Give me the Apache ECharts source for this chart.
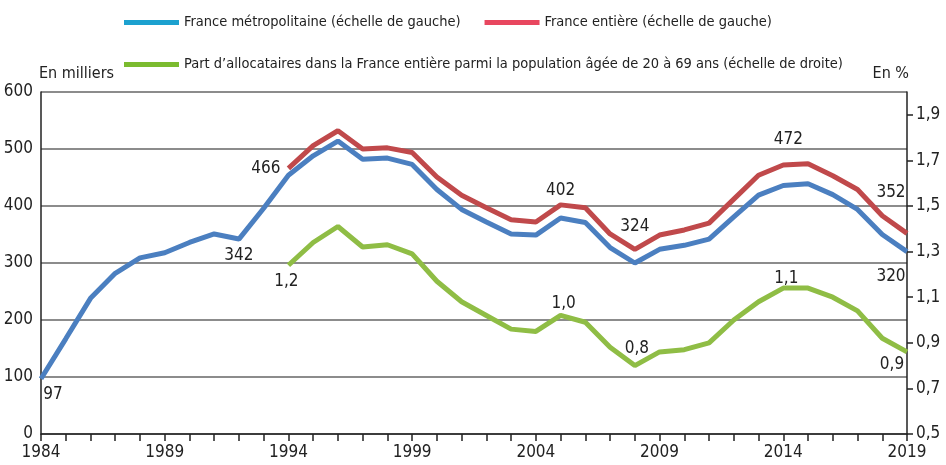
<!DOCTYPE html>
<html>
<head>
<meta charset="utf-8">
<script src="https://cdn.jsdelivr.net/npm/echarts@6/dist/echarts.min.js"></script>
<style>
  html, body { margin: 0; padding: 0; background: #fff; }
  #main { width: 946px; height: 465px; }
</style>
</head>
<body>
<div id="main"></div>
<script>
var chart = echarts.init(document.getElementById('main'))

var FONT = '"Liberation Sans Narrow", "Arial Narrow", "DejaVu Sans Condensed", sans-serif'

// annees 1984 -> 2019
var years = []
for (var y = 1984; y <= 2019; y++) years.push(String(y))

// en milliers
var metro = [97, 167, 238, 282, 309, 318, 336, 351, 342, 396, 454, 488, 514, 482, 484, 473, 429, 394,
  372, 351, 349, 379, 371, 327, 300, 324, 331, 342, 381, 419, 436, 439, 420, 394, 350, 320]
var entiere = [null, null, null, null, null, null, null, null, null, null,
  466, 506, 532, 500, 502, 494, 451, 419, 397, 376, 372, 402, 397, 351, 324, 349, 358, 370, 412, 454,
  472, 474, 453, 429, 383, 352]
// en %
var part = [null, null, null, null, null, null, null, null, null, null,
  1.24, 1.34, 1.41, 1.32, 1.33, 1.29, 1.17, 1.08, 1.02, 0.96, 0.95, 1.02, 0.99, 0.88, 0.80, 0.86,
  0.87, 0.90, 1.00, 1.08, 1.14, 1.14, 1.10, 1.04, 0.92, 0.86]

var rightTicks = [0.5, 0.7, 0.9, 1.1, 1.3, 1.5, 1.7, 1.9]

var nameMetro = 'France métropolitaine (échelle de gauche)'
var nameEntiere = 'France entière (échelle de gauche)'
var namePart = 'Part d\u2019allocataires dans la France entière parmi la population âgée de 20 à 69 ans (échelle de droite)'

// etiquettes : annee -> position
var labMetro = {
  1984: { position: 'bottom', offset: [12, 3], distance: 4 },
  1992: { position: 'bottom', distance: 8 },
  2019: { position: 'bottom', offset: [-16, 12], distance: 4 }
}
var labEntiere = {
  1994: { position: 'left', distance: 8 },
  2005: { position: 'top', distance: 6 },
  2008: { position: 'top', distance: 14 },
  2014: { position: 'top', offset: [5, 0], distance: 17 },
  2019: { position: 'top', offset: [-16, -26], distance: 6 }
}
var labPart = {
  1994: { position: 'bottom', offset: [-2, 0], distance: 8 },
  2005: { position: 'top', offset: [3, 0], distance: 3 },
  2008: { position: 'top', offset: [2, 0], distance: 8 },
  2014: { position: 'top', offset: [3, 0], distance: 1 },
  2019: { position: 'bottom', offset: [-15, 0], distance: 4 }
}

function withLabels(values, labs, fmt) {
  return values.map(function (v, i) {
    var l = labs[years[i]]
    if (!l || v == null) return v
    return {
      value: v,
      label: {
        show: true,
        position: l.position,
        distance: l.distance,
        offset: l.offset || [0, 0],
        formatter: fmt(v),
        color: '#222',
        fontSize: 17,
        fontFamily: FONT
      }
    }
  })
}

function fmtInt(v) { return String(v) }
function fmtPct(v) { return v.toFixed(1).replace('.', ',') }

function lineSerie(name, data, color, yIndex) {
  return {
    name: name,
    type: 'line',
    yAxisIndex: yIndex,
    data: data,
    symbol: 'circle',
    symbolSize: 0.1,
    showAllSymbol: true,
    itemStyle: { color: color },
    lineStyle: { color: color, width: 5 },
    emphasis: { disabled: true },
    silent: true,
    animation: false
  }
}

var legendText = { color: '#222', fontSize: 14.5, fontFamily: FONT }

var option = {
  animation: false,
  legend: [{
    left: 119,
    top: 10,
    icon: 'rect',
    itemWidth: 55,
    itemHeight: 5,
    itemGap: 24,
    textStyle: legendText,
    selectedMode: false,
    data: [
      { name: nameMetro, itemStyle: { color: '#1ca1cf' } },
      { name: nameEntiere, itemStyle: { color: '#e8475f' } }
    ]
  }, {
    left: 119,
    top: 52,
    icon: 'rect',
    itemWidth: 55,
    itemHeight: 5,
    textStyle: legendText,
    selectedMode: false,
    data: [{ name: namePart, itemStyle: { color: '#7bbb2f' } }]
  }],
  grid: { left: 41, right: 39, top: 92, bottom: 31 },
  xAxis: {
    type: 'category',
    data: years,
    boundaryGap: false,
    axisLine: { lineStyle: { color: '#222', width: 1.5 } },
    axisTick: { interval: 0, length: 7, lineStyle: { color: '#222', width: 1.5 } },
    axisLabel: { interval: 4, margin: 10, color: '#222', fontSize: 17, fontFamily: FONT },
    splitLine: { show: false }
  },
  yAxis: [{
    type: 'value',
    min: 0,
    max: 600,
    interval: 100,
    name: 'En milliers',
    nameLocation: 'end',
    nameGap: 10,
    nameTextStyle: { align: 'left', color: '#222', fontSize: 16, fontFamily: FONT, padding: [0, 0, 0, -2] },
    axisLine: { show: true, lineStyle: { color: '#222', width: 1.5 } },
    axisTick: { show: false },
    axisLabel: { margin: 8, color: '#222', fontSize: 17, fontFamily: FONT },
    splitLine: { lineStyle: { color: '#666', width: 1.5 } }
  }, {
    type: 'value',
    position: 'right',
    min: 0.5,
    max: 2.0,
    interval: 0.1,
    name: 'En %',
    nameLocation: 'end',
    nameGap: 10,
    nameTextStyle: { align: 'right', color: '#222', fontSize: 16, fontFamily: FONT, padding: [0, -2, 0, 0] },
    axisLine: { show: true, lineStyle: { color: '#222', width: 1.5 } },
    axisTick: { show: true, length: 6, customValues: rightTicks, lineStyle: { color: '#222', width: 1.5 } },
    axisLabel: {
      customValues: rightTicks,
      margin: 9,
      color: '#222',
      fontSize: 17,
      fontFamily: FONT,
      formatter: function (v) { return v.toFixed(1).replace('.', ',') }
    },
    splitLine: { show: false }
  }],
  series: [
    lineSerie(nameMetro, withLabels(metro, labMetro, fmtInt), '#4b7fc0', 0),
    lineSerie(nameEntiere, withLabels(entiere, labEntiere, fmtInt), '#c0494b', 0),
    lineSerie(namePart, withLabels(part, labPart, fmtPct), '#8fbd45', 1)
  ]
}

chart.setOption(option)
</script>
</body>
</html>
